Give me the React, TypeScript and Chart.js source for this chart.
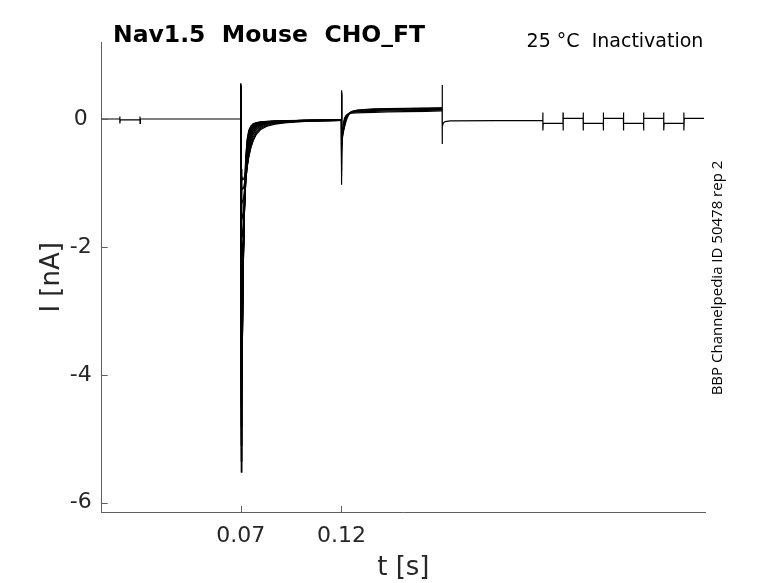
import { useEffect, useRef } from "react";
import { Chart, registerables, type Plugin } from "chart.js";

Chart.register(...registerables);

// current traces, I [nA] against t [s]
const holdTimes = [0, 0.01, 0.01001, 0.01003, 0.0102, 0.02, 0.02001, 0.02003, 0.0202, 0.0699];
const holdValues = [0, 0, 0.04, -0.07, -0.015, -0.015, 0.04, -0.07, 0, 0];

const peakTimes = [
  0.07, 0.07001, 0.07008, 0.0703, 0.0706, 0.071, 0.0714, 0.0719, 0.0725, 0.0732,
  0.074, 0.075, 0.0762, 0.0778, 0.08, 0.083, 0.087, 0.093, 0.102, 0.1199,
];
const peakSweeps = [
  [0, 0.56, -3.2, -5.52, -4.3, -2.9, -1.9, -1.1, -0.6, -0.32, -0.18, -0.11, -0.075, -0.055, -0.045, -0.038, -0.032, -0.026, -0.021, -0.016],
  [0, 0.55, -3.0, -5.35, -4.3, -2.95, -1.95, -1.15, -0.64, -0.35, -0.2, -0.12, -0.08, -0.058, -0.047, -0.039, -0.033, -0.027, -0.021, -0.016],
  [0, 0.54, -2.8, -5.1, -4.25, -3.0, -2.0, -1.2, -0.68, -0.38, -0.22, -0.135, -0.088, -0.062, -0.049, -0.04, -0.034, -0.027, -0.022, -0.017],
  [0, 0.53, -2.5, -4.8, -4.15, -3.0, -2.05, -1.25, -0.72, -0.41, -0.24, -0.15, -0.097, -0.067, -0.052, -0.042, -0.035, -0.028, -0.022, -0.017],
  [0, 0.52, -2.2, -4.45, -4.0, -3.0, -2.1, -1.3, -0.76, -0.44, -0.26, -0.165, -0.106, -0.072, -0.055, -0.044, -0.036, -0.029, -0.023, -0.017],
  [0, 0.51, -2.0, -4.1, -3.8, -2.95, -2.1, -1.34, -0.8, -0.47, -0.285, -0.18, -0.115, -0.078, -0.058, -0.046, -0.038, -0.03, -0.023, -0.018],
  [0, 0.5, -1.7, -3.6, -3.7, -2.9, -2.1, -1.37, -0.84, -0.5, -0.31, -0.195, -0.125, -0.085, -0.062, -0.048, -0.039, -0.031, -0.024, -0.018],
  [0, 0.49, -1.5, -3.1, -3.3, -2.8, -2.08, -1.4, -0.88, -0.54, -0.335, -0.21, -0.137, -0.092, -0.066, -0.05, -0.04, -0.032, -0.024, -0.018],
  [0, 0.48, -1.3, -2.6, -2.9, -2.62, -2.02, -1.42, -0.92, -0.58, -0.36, -0.23, -0.15, -0.1, -0.071, -0.053, -0.042, -0.033, -0.025, -0.019],
  [0, 0.47, -1.1, -2.2, -2.5, -2.38, -1.94, -1.42, -0.96, -0.63, -0.4, -0.255, -0.165, -0.11, -0.077, -0.057, -0.044, -0.034, -0.025, -0.019],
  [0, 0.46, -0.95, -1.85, -2.15, -2.1, -1.82, -1.4, -0.99, -0.68, -0.44, -0.285, -0.185, -0.122, -0.085, -0.061, -0.047, -0.036, -0.026, -0.019],
  [0, 0.45, -0.8, -1.55, -1.82, -1.84, -1.66, -1.34, -1.0, -0.72, -0.49, -0.32, -0.21, -0.138, -0.095, -0.067, -0.05, -0.038, -0.027, -0.02],
  [0, 0.44, -0.7, -1.3, -1.52, -1.55, -1.45, -1.24, -0.98, -0.75, -0.53, -0.36, -0.24, -0.16, -0.108, -0.075, -0.055, -0.041, -0.029, -0.02],
  [0, 0.43, -0.6, -1.08, -1.26, -1.3, -1.25, -1.12, -0.94, -0.76, -0.57, -0.41, -0.28, -0.19, -0.125, -0.086, -0.062, -0.045, -0.031, -0.021],
  [0, 0.42, -0.5, -0.9, -1.05, -1.1, -1.08, -1.0, -0.88, -0.75, -0.6, -0.45, -0.32, -0.22, -0.145, -0.1, -0.07, -0.05, -0.033, -0.022],
  [0, 0.41, -0.45, -0.78, -0.9, -0.95, -0.94, -0.9, -0.82, -0.72, -0.58, -0.45, -0.34, -0.24, -0.162, -0.113, -0.079, -0.056, -0.036, -0.023],
];

const stepTimes = [
  0.12, 0.12001, 0.12006, 0.1202, 0.1205, 0.121, 0.1216, 0.1224, 0.1235,
  0.125, 0.1275, 0.131, 0.136, 0.143, 0.152, 0.162, 0.1699,
];
const stepSweeps = [
  [-0.02, 0.45, -1.03, -0.55, -0.22, -0.06, 0.02, 0.06, 0.08, 0.09, 0.095, 0.1, 0.105, 0.11, 0.115, 0.12, 0.125],
  [-0.02, 0.43, -0.9, -0.5, -0.25, -0.1, -0.01, 0.05, 0.08, 0.1, 0.11, 0.115, 0.12, 0.125, 0.13, 0.135, 0.14],
  [-0.02, 0.42, -0.8, -0.45, -0.28, -0.14, -0.04, 0.04, 0.085, 0.11, 0.12, 0.128, 0.133, 0.138, 0.143, 0.148, 0.152],
  [-0.02, 0.4, -0.7, -0.4, -0.3, -0.18, -0.07, 0.02, 0.08, 0.115, 0.13, 0.138, 0.143, 0.148, 0.153, 0.158, 0.162],
  [-0.02, 0.4, -0.6, -0.35, -0.26, -0.2, -0.1, 0.0, 0.07, 0.115, 0.135, 0.145, 0.152, 0.157, 0.162, 0.166, 0.17],
  [-0.02, 0.38, -0.5, -0.3, -0.22, -0.18, -0.12, -0.02, 0.06, 0.11, 0.135, 0.148, 0.158, 0.163, 0.168, 0.172, 0.176],
];

const tailTimes = [
  0.17, 0.17001, 0.17004, 0.1702, 0.1706, 0.1715, 0.174, 0.22,
  0.22001, 0.22003, 0.2202, 0.23,
  0.23001, 0.23003, 0.2302, 0.24,
  0.24001, 0.24003, 0.2402, 0.25,
  0.25001, 0.25003, 0.2502, 0.26,
  0.26001, 0.26003, 0.2602, 0.27,
  0.27001, 0.27003, 0.2702, 0.28,
  0.28001, 0.28003, 0.2802, 0.29,
  0.29001, 0.29003, 0.2902, 0.3,
];
const tailValues = [
  0.15, 0.53, -0.39, -0.12, -0.06, -0.04, -0.03, -0.02,
  0.1, -0.18, -0.07, -0.07,
  0.1, -0.18, 0.01, 0.01,
  0.1, -0.18, -0.07, -0.07,
  0.1, -0.18, 0.01, 0.01,
  0.1, -0.18, -0.07, -0.07,
  0.1, -0.18, 0.01, 0.01,
  0.1, -0.18, -0.07, -0.07,
  0.1, -0.18, 0.01, 0.01,
];

const xTicks = [0.07, 0.12];
const yTicks = [0, -2, -4, -6];

const AXIS_COLOR = "#5e5e5e";
const TEXT_COLOR = "#262626";
const FONT = "DejaVu Sans";

const toPoints = (times: number[], values: number[]) =>
  times.map((t, i) => ({ x: t, y: values[i] }));

const decorations: Plugin<"line"> = {
  id: "decorations",
  afterDraw(chart) {
    const { ctx } = chart;
    const xs = chart.scales.x;
    const ys = chart.scales.y;
    ctx.save();

    // inward tick marks
    ctx.strokeStyle = AXIS_COLOR;
    ctx.lineWidth = 1;
    ctx.beginPath();
    for (const v of xTicks) {
      const px = Math.round(xs.getPixelForValue(v)) + 0.5;
      ctx.moveTo(px, ys.bottom);
      ctx.lineTo(px, ys.bottom - 6);
    }
    for (const v of yTicks) {
      const py = Math.round(ys.getPixelForValue(v)) + 0.5;
      ctx.moveTo(xs.left, py);
      ctx.lineTo(xs.left + 6, py);
    }
    ctx.stroke();

    ctx.textBaseline = "alphabetic";

    ctx.fillStyle = "#000";
    ctx.font = `bold 23.5px "${FONT}"`;
    ctx.textAlign = "left";
    ctx.fillText("Nav1.5  Mouse  CHO_FT", 113, 42.3);

    ctx.font = `19px "${FONT}"`;
    ctx.textAlign = "right";
    ctx.fillText("25 °C  Inactivation", 703.4, 47.3);

    ctx.fillStyle = TEXT_COLOR;
    ctx.font = `26px "${FONT}"`;
    ctx.textAlign = "center";
    ctx.fillText("t [s]", (xs.left + xs.right) / 2, 575);

    ctx.save();
    ctx.translate(59.3, (ys.top + ys.bottom) / 2);
    ctx.rotate(-Math.PI / 2);
    ctx.fillText("I [nA]", 0, 0);
    ctx.restore();

    ctx.save();
    ctx.fillStyle = "#000";
    ctx.font = `15px "Open Sans"`;
    ctx.translate(722, 278);
    ctx.rotate(-Math.PI / 2);
    ctx.fillText("BBP Channelpedia ID 50478 rep 2", 0, 0);
    ctx.restore();

    ctx.restore();
  },
};

export default function App() {
  const canvasRef = useRef<HTMLCanvasElement | null>(null);

  useEffect(() => {
    const canvas = canvasRef.current;
    if (!canvas) return;

    const trace = (data: { x: number; y: number }[]) => ({
      data,
      borderColor: "#000",
      borderWidth: 1.2,
      pointRadius: 0,
      fill: false,
      tension: 0,
    });

    const datasets = [
      trace(toPoints(holdTimes, holdValues)),
      ...peakSweeps.map((s) => trace(toPoints(peakTimes, s))),
      ...stepSweeps.map((s) => trace(toPoints(stepTimes, s))),
      trace(toPoints(tailTimes, tailValues)),
    ];

    const chart = new Chart(canvas, {
      type: "line",
      data: { datasets },
      options: {
        animation: false,
        responsive: true,
        maintainAspectRatio: false,
        events: [],
        layout: { padding: { top: 42.7, right: 73, left: 0, bottom: 0 } },
        plugins: {
          legend: { display: false },
          tooltip: { enabled: false },
          title: { display: false },
        },
        scales: {
          x: {
            type: "linear",
            min: 0.001,
            max: 0.3005,
            grid: { display: true, drawOnChartArea: false, drawTicks: false },
            border: { display: true, color: AXIS_COLOR, width: 1 },
            afterBuildTicks: (scale) => {
              scale.ticks = xTicks.map((value) => ({ value }));
            },
            afterFit: (scale) => {
              scale.height = 71;
            },
            ticks: {
              autoSkip: false,
              maxRotation: 0,
              padding: 11,
              color: TEXT_COLOR,
              font: { family: FONT, size: 22 },
              callback: (v) => Number(v).toFixed(2),
            },
          },
          y: {
            type: "linear",
            min: -6.145,
            max: 1.193,
            grid: { display: true, drawOnChartArea: false, drawTicks: false },
            border: { display: true, color: AXIS_COLOR, width: 1 },
            afterBuildTicks: (scale) => {
              scale.ticks = yTicks.map((value) => ({ value }));
            },
            afterFit: (scale) => {
              scale.width = 101.7;
            },
            ticks: {
              padding: 10,
              crossAlign: "center",
              color: TEXT_COLOR,
              font: { family: FONT, size: 22 },
              callback: (v) => String(v),
            },
          },
        },
      },
      plugins: [decorations],
    });

    return () => {
      chart.destroy();
    };
  }, []);

  return (
    <div style={{ position: "fixed", left: 0, top: 0, width: 778, height: 583, background: "#fff" }}>
      <canvas ref={canvasRef} />
    </div>
  );
}
